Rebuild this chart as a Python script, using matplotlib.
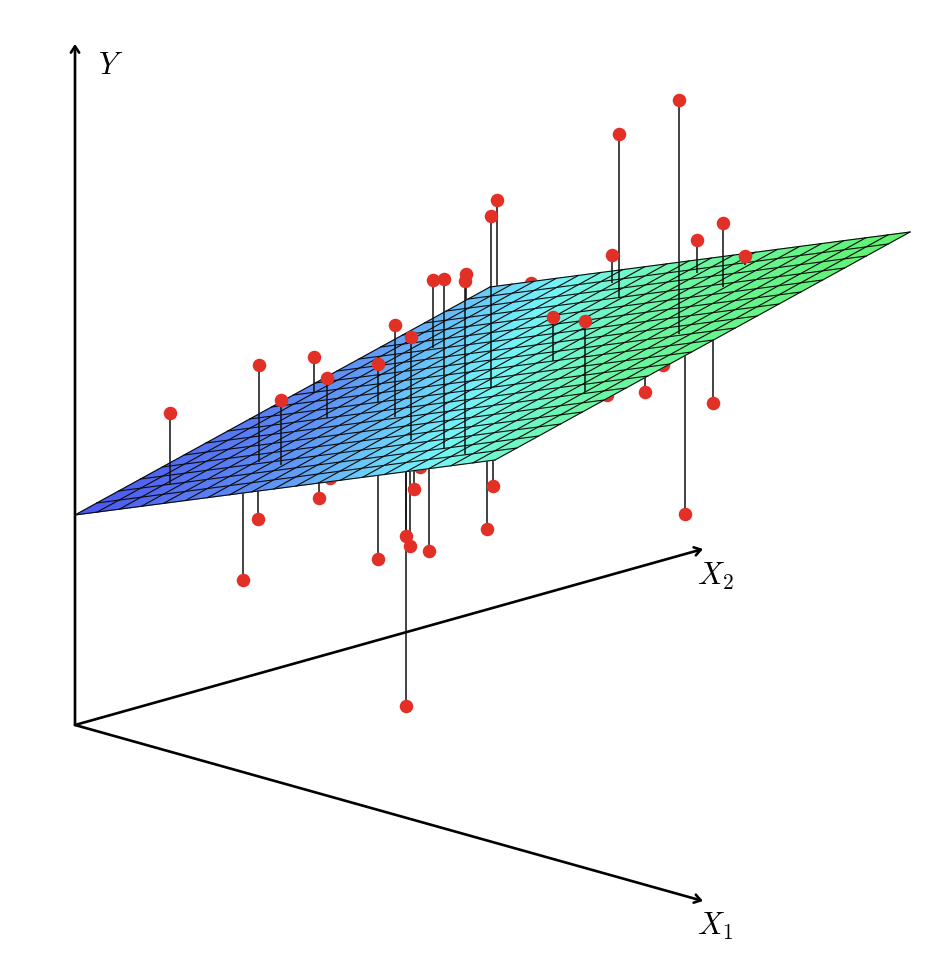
import numpy as np
import matplotlib
matplotlib.use('Agg')
import matplotlib.pyplot as plt
from matplotlib.colors import LinearSegmentedColormap

plt.rcParams['mathtext.fontset'] = 'cm'

# points in front of the plane: x, top of the dot, foot of the stem on the plane
front_x = [170, 259, 281, 314, 327, 378, 395, 411, 433, 444, 465.5, 491, 553, 585, 612, 619, 679, 697, 723, 745]
front_y = [413, 365, 400, 357, 378, 364, 325, 337, 280, 279, 281, 216, 317, 321, 255, 134, 100, 240, 223, 256]
front_foot = [484, 462, 465, 392, 418, 402, 417, 440, 348, 449, 454, 387, 361, 392, 283, 297, 334, 273, 287, 265]

# points hidden behind the plane: the stems run up (or down) behind it
back_x = [497, 531, 466, 243, 258, 319, 330, 378, 406, 406, 410, 414, 420, 429, 487, 493, 685, 713, 645, 663, 607]
back_y = [200, 283, 274, 580, 519, 498, 478, 559, 706, 536, 546, 489, 467, 551, 529, 486, 514, 403, 392, 365, 395]
back_foot = [320, 300, 320, 470, 470, 470, 470, 450, 450, 450, 450, 450, 450, 450, 440, 440, 320, 320, 360, 350, 380]

# plane corners in picture coordinates
corner_left = (75, 515)
corner_back = (490, 287)
corner_near = (495, 460)
n_cells = 19

origin = (75, 725)
y_tip = (75, 44)
x2_tip = (703, 549)
x1_tip = (703, 901)

plane_stops = [0, 0.28, 0.5, 0.68, 1]
plane_colors = ['#4c55ee', '#5f95f6', '#74f6fa', '#6cf6a6', '#5ff26e']

fig = plt.figure(figsize=(9.28, 9.72), dpi=100)
ax = fig.add_axes([0, 0, 1, 1])
ax.set_xlim(0, 928)
ax.set_ylim(972, 0)
ax.axis('off')

# axes arrows
for tip in [y_tip, x2_tip, x1_tip]:
    ax.annotate('', xy=tip, xytext=origin, zorder=1,
                arrowprops=dict(arrowstyle='->,head_length=0.45,head_width=0.3', color='black',
                                lw=1.9, shrinkA=0, shrinkB=0))

# points behind the plane
ax.vlines(back_x, back_y, back_foot, color='#101010', lw=1.1, zorder=2)
ax.scatter(back_x, back_y, s=95, color='#e33027', linewidths=0, zorder=3)

# plane
u, v = np.meshgrid(np.linspace(0, 1, n_cells + 1), np.linspace(0, 1, n_cells + 1))
px = corner_left[0] + u * (corner_back[0] - corner_left[0]) + v * (corner_near[0] - corner_left[0])
py = corner_left[1] + u * (corner_back[1] - corner_left[1]) + v * (corner_near[1] - corner_left[1])
height = 0.40 * u + 0.60 * v
cmap = LinearSegmentedColormap.from_list('plane', list(zip(plane_stops, plane_colors)))
ax.pcolormesh(px, py, height, cmap=cmap, shading='gouraud', vmin=0, vmax=1, zorder=4)
ax.plot(px, py, color='#0a0a0a', lw=0.8, zorder=5)
ax.plot(px.T, py.T, color='#0a0a0a', lw=0.8, zorder=5)

# points in front of the plane
ax.vlines(front_x, front_y, front_foot, color='#101010', lw=1.1, zorder=6)
ax.scatter(front_x, front_y, s=95, color='#e33027', linewidths=0, zorder=7)

ax.text(98, 74, '$Y$', fontsize=22, color='black')
ax.text(697, 585, '$X_2$', fontsize=22, color='black')
ax.text(697, 935, '$X_1$', fontsize=22, color='black')

fig.savefig('out.png', dpi=100)
